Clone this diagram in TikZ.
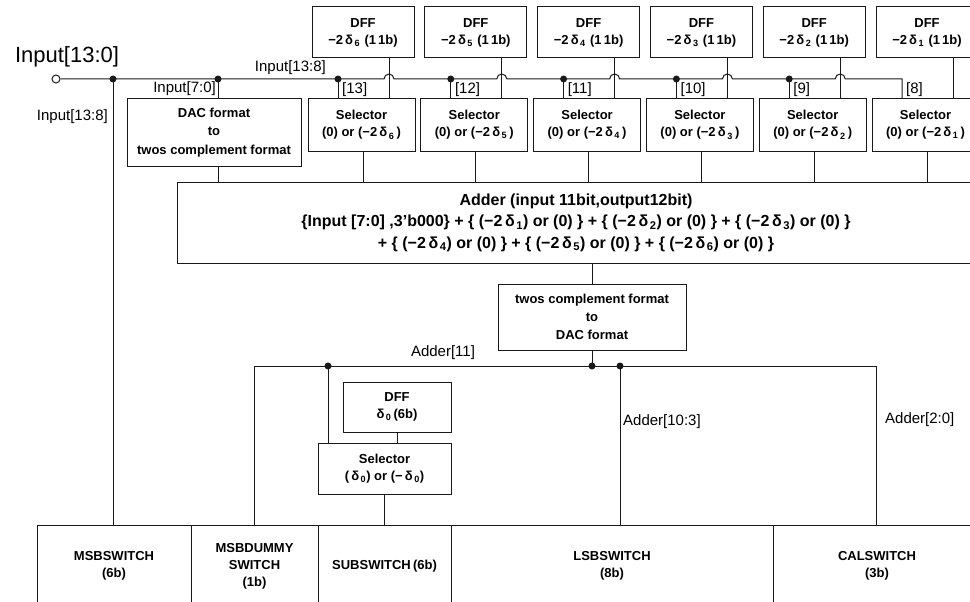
\documentclass[tikz,border=0pt]{standalone}
\usepackage{fontspec}
\setmainfont{Liberation Sans}
\usetikzlibrary{calc}
\newcommand{\dlt}[1]{δ\kern1.5pt\textsubscript{#1}}

\begin{document}
\begin{tikzpicture}[x=1pt, y=-1pt,
    wire/.style={line width=1pt, black!90},
    blk/.style={draw=black!90, line width=1pt, align=center, inner sep=1pt,
      font=\fontsize{13}{17}\selectfont\bfseries},
    lbl/.style={inner sep=0pt, font=\fontsize{15}{18}\selectfont}]
    \useasboundingbox (0,0) rectangle (970,602);
    \clip (0,0) rectangle (970,602);

    % DFF and selector pairs for delta_6 ... delta_1
    \foreach \i in {1,...,6} {
      \pgfmathsetmacro\xl{308+(6-\i)*112.8}
      \pgfmathtruncatemacro\bit{7+\i}
      \node[blk, minimum width=102, minimum height=51] (dff\i) at (\xl+55,32.5) {DFF\\−2\,\dlt{\i}\,\,(1\,1b)};
      \node[blk, minimum width=107, minimum height=52] (sel\i) at (\xl+53.5,125) {Selector\\(0) or (−2\,\dlt{\i}\,)};
      \coordinate (tap\i) at (\xl+30,79);
      \coordinate (hop\i) at (\xl+81,79);
      \coordinate (out\i) at (\xl+55,151);
      \node[lbl, anchor=west] (bit\i) at (\xl+34,90) {[\bit]};
    }

    % Format converters and adder
    \node[blk, minimum width=174, minimum height=67, font=\fontsize{13}{18.5}\selectfont\bfseries] (dac) at (214,132.5) {DAC format\\to\\twos complement format};
    \node[blk, minimum width=798, minimum height=81, font=\fontsize{16}{21.5}\selectfont\bfseries] (adder) at (576,222.5)
      {Adder (input 11bit,output12bit)\\
       \{Input [7:0] ,3'b000\} + \{ (−2\,\dlt{1}) or (0) \} + \{ (−2\,\dlt{2}) or (0) \} + \{ (−2\,\dlt{3}) or (0) \}\\
       + \{ (−2\,\dlt{4}) or (0) \} + \{ (−2\,\dlt{5}) or (0) \} + \{ (−2\,\dlt{6}) or (0) \}};
    \node[blk, minimum width=188, minimum height=66, font=\fontsize{13}{18}\selectfont\bfseries] (tdac) at (592,317) {twos complement format\\to\\DAC format};

    % Sub DAC correction
    \node[blk, minimum width=108, minimum height=50] (dff0) at (397,407) {DFF\\\dlt{0}\,(6b)};
    \node[blk, minimum width=133, minimum height=51] (sel0) at (384.5,468.5) {Selector\\(\,\dlt{0}) or (−\,\dlt{0})};

    % Switch row
    \node[blk, minimum width=154, minimum height=82] (msb) at (114,566) {MSBSWITCH\\(6b)};
    \node[blk, minimum width=127, minimum height=82] (dummy) at (254.5,566) {MSBDUMMY\\SWITCH\\(1b)};
    \node[blk, minimum width=133, minimum height=82] (sub) at (384.5,566) {SUBSWITCH\,(6b)};
    \node[blk, minimum width=322, minimum height=82] (lsb) at (612,566) {LSBSWITCH\\(8b)};
    \node[blk, minimum width=208, minimum height=82] (cal) at (877,566) {CALSWITCH\\(3b)};

    % Input bus
    \node[circle, draw=black!90, line width=1pt, fill=white, inner sep=0pt, minimum size=8] (in) at (56,79) {};
    \node[inner sep=0pt, font=\fontsize{22}{26}\selectfont] (inlbl) at (67,57) {Input[13:0]};
    \coordinate (mtap) at (113,79);
    \coordinate (dtap) at (218,79);
    \draw[wire] (in.east) foreach \j in {6,...,2} { -- ([xshift=-5pt]hop\j) arc[start angle=180, end angle=360, radius=5] }
      -- (tap1) -- (tap1 |- sel1.north);
    \fill[black!90] (mtap) circle (3.5);
    \fill[black!90] (dtap) circle (3.5);
    \draw[wire] (mtap) -- (mtap |- msb.north);
    \draw[wire] (dtap) -- (dtap |- dac.north);
    \draw[wire] (dac.south -| dtap) -- (adder.north -| dtap);
    \node[lbl, anchor=east] (lmsb) at (108,117) {Input[13:8]};
    \node[lbl, anchor=east] (llsb) at (216,89) {Input[7:0]};
    \node[lbl, anchor=east] (lbus) at (326,68) {Input[13:8]};

    \foreach \i in {2,...,6} {
      \fill[black!90] (tap\i) circle (3.5);
      \draw[wire] (tap\i) -- (tap\i |- sel\i.north);
    }
    \foreach \i in {1,...,6} {
      \draw[wire] (hop\i |- dff\i.south) -- (hop\i |- sel\i.north);
      \draw[wire] (out\i) -- (out\i |- adder.north);
    }

    % Adder output bus
    \coordinate (jl) at (254,366);
    \coordinate (js) at (328,366);
    \coordinate (jt) at (592,366);
    \coordinate (jb) at (620,366);
    \coordinate (jr) at (876,366);
    \draw[wire] (adder.south -| tdac) -- (tdac.north);
    \draw[wire] (tdac.south) -- (jt);
    \draw[wire] (jl |- dummy.north) -- (jl) -- (jr) -- (jr |- cal.north);
    \draw[wire] (js) -- (js |- sel0.north);
    \draw[wire] (jb) -- (jb |- lsb.north);
    \draw[wire] (dff0.south) -- (dff0.south |- sel0.north);
    \draw[wire] (sel0.south) -- (sel0.south |- sub.north);
    \foreach \p in {js,jt,jb} \fill[black!90] (\p) circle (3.5);
    \node[lbl] (l11) at (443,353) {Adder[11]};
    \node[lbl, anchor=west] (l103) at (623,422) {Adder[10:3]};
    \node[lbl, anchor=west] (l20) at (885,420) {Adder[2:0]};
\end{tikzpicture}
\end{document}
